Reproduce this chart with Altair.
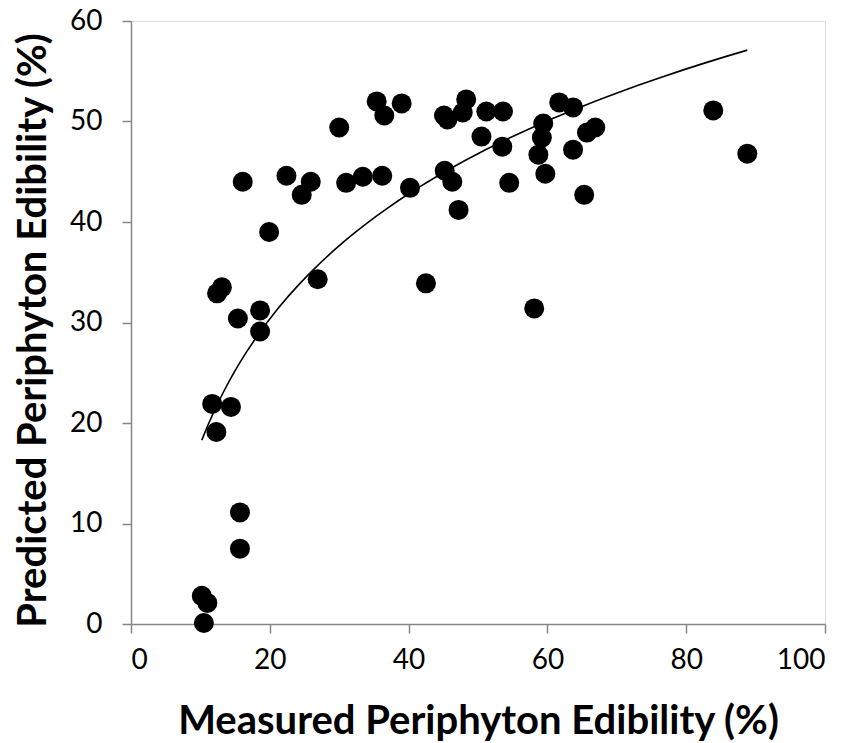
import altair as alt
import pandas as pd

measured = [10.5, 11.0, 10.2, 15.7, 15.7, 12.3, 11.7, 14.4, 18.6, 15.4,
            18.6, 12.4, 13.1, 26.9, 19.9, 16.1, 22.4, 25.9, 24.6, 31.0,
            33.4, 36.2, 30.0, 35.4, 36.5, 39.0, 40.2, 42.5, 45.2, 46.3,
            47.2, 45.1, 45.6, 47.8, 48.3, 50.5, 51.2, 53.6, 53.5, 54.5,
            58.1, 58.7, 59.2, 59.4, 59.7, 61.7, 63.7, 63.7, 65.3, 65.7,
            66.9, 83.9, 88.8]
predicted = [0.1, 2.1, 2.8, 7.5, 11.1, 19.1, 21.9, 21.6, 29.1, 30.4,
             31.2, 32.9, 33.5, 34.3, 39.0, 44.0, 44.6, 44.0, 42.7, 43.9,
             44.5, 44.6, 49.4, 52.0, 50.6, 51.8, 43.4, 33.9, 45.1, 44.0,
             41.2, 50.6, 50.2, 50.9, 52.2, 48.5, 51.0, 51.0, 47.5, 43.9,
             31.4, 46.7, 48.4, 49.8, 44.8, 51.9, 51.4, 47.2, 42.7, 48.9,
             49.4, 51.1, 46.8]
x_ticks = [0, 20, 40, 60, 80, 100]
y_ticks = [0, 10, 20, 30, 40, 50, 60]

df = pd.DataFrame({"measured": measured, "predicted": predicted})

axis_common = dict(
    domainColor="#868686", domainWidth=1.5,
    tickColor="#868686", tickWidth=1.5, tickSize=9,
    labelFont="Lato", labelFontSize=28, labelColor="#000000",
    titleFont="Lato", titleFontWeight="bold", titleFontSize=40,
    titleColor="#000000", grid=False, titleBaseline="alphabetic",
)

x_enc = alt.X("measured:Q", scale=alt.Scale(domain=[0, 100], nice=False),
              axis=alt.Axis(title="Measured Periphyton Edibility (%)", values=x_ticks,
                            labelPadding=13, titleY=109, **axis_common))
y_enc = alt.Y("predicted:Q", scale=alt.Scale(domain=[0, 60], nice=False),
              axis=alt.Axis(title="Predicted Periphyton Edibility (%)", values=y_ticks,
                            labelPadding=20, titleX=-86, titleY=309, **axis_common))

points = alt.Chart(df).mark_circle(size=400, color="#000000", opacity=1).encode(x=x_enc, y=y_enc)

trend = alt.Chart(df).transform_regression(
    "measured", "predicted", method="log"
).mark_line(color="#000000", strokeWidth=1.6).encode(x=x_enc, y=y_enc)

chart = alt.layer(points, trend).properties(
    width=694, height=603,
    autosize=alt.AutoSizeParams(type="none"),
    padding={"left": 131, "top": 21, "right": 42, "bottom": 119},
).configure_view(stroke=None).configure(background="#ffffff")

chart.save("out.html", embed_options={"renderer": "svg", "actions": False})
